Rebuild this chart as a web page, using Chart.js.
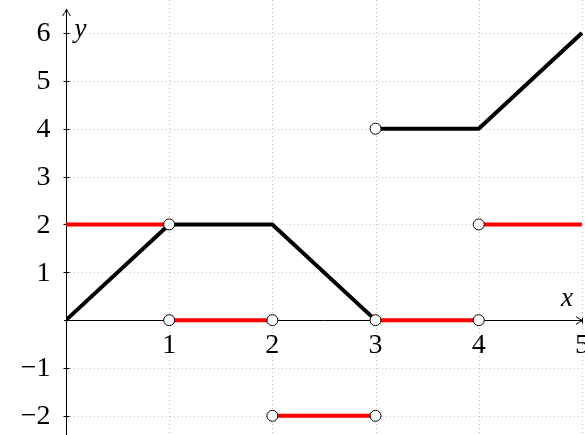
<!DOCTYPE html>
<html>
<head>
<meta charset="utf-8">
<script src="https://cdn.jsdelivr.net/npm/chart.js@4"></script>
<style>
  html, body { margin: 0; padding: 0; background: #fff; }
  #wrap { width: 585px; height: 435px; }
</style>
</head>
<body>
<div id="wrap"><canvas id="chart1"></canvas></div>
<script>
// piecewise black function
const blackX1 = [0, 1, 2, 3];
const blackY1 = [0, 2, 2, 0];
const blackX2 = [3, 4, 5];
const blackY2 = [4, 4, 6];

// red pieces (each from x0 to x1 at constant y)
const redX0 = [0, 1, 2, 3, 4];
const redX1 = [1, 2, 3, 4, 5];
const redY = [2, 0, -2, 0, 2];

// open circles
const openX = [1, 1, 2, 2, 3, 3, 3, 4, 4];
const openY = [2, 0, 0, -2, -2, 0, 4, 0, 2];

const xTicks = [1, 2, 3, 4, 5];
const yTicks = [-2, -1, 1, 2, 3, 4, 5, 6];

const toPts = (xs, ys) => xs.map((x, i) => ({ x: x, y: ys[i] }));

const datasets = [];
redY.forEach((y, i) => {
  datasets.push({
    data: toPts([redX0[i], redX1[i]], [y, y]),
    borderColor: '#ff0000',
    borderWidth: 4,
    pointRadius: 0,
    order: 3,
  });
});
datasets.push({
  data: toPts(blackX1, blackY1),
  borderColor: '#000',
  borderWidth: 4,
  pointRadius: 0,
  order: 2,
});
datasets.push({
  data: toPts(blackX2, blackY2),
  borderColor: '#000',
  borderWidth: 4,
  pointRadius: 0,
  order: 2,
});
datasets.push({
  data: toPts(openX, openY),
  showLine: false,
  pointRadius: 5.5,
  pointBackgroundColor: '#fff',
  pointBorderColor: '#000',
  pointBorderWidth: 1,
  order: 1,
});

const FONT = '28px "Liberation Serif", "DejaVu Serif", serif';
const IFONT = 'italic 27px "Liberation Serif", "DejaVu Serif", serif';

const axesPlugin = {
  id: 'axes',
  beforeDatasetsDraw(chart) {
    const ctx = chart.ctx;
    const xs = chart.scales.x, ys = chart.scales.y;
    const x0 = xs.getPixelForValue(0), y0 = ys.getPixelForValue(0);
    const area = chart.chartArea;
    ctx.save();
    // grid
    ctx.strokeStyle = '#c0c0c0';
    ctx.lineWidth = 1;
    ctx.setLineDash([1, 3]);
    xTicks.forEach(v => {
      const p = Math.round(xs.getPixelForValue(v)) + 0.5;
      ctx.beginPath(); ctx.moveTo(p, area.top); ctx.lineTo(p, area.bottom); ctx.stroke();
    });
    yTicks.forEach(v => {
      const p = Math.round(ys.getPixelForValue(v)) + 0.5;
      ctx.beginPath(); ctx.moveTo(area.left, p); ctx.lineTo(area.right, p); ctx.stroke();
    });
    ctx.setLineDash([]);
    // axis lines
    ctx.strokeStyle = '#000';
    ctx.lineWidth = 1;
    const xEnd = xs.getPixelForValue(5) + 1;
    const yTop = ys.getPixelForValue(6.5);
    const ax = Math.round(x0) + 0.5, ay = Math.round(y0) + 0.5;
    ctx.beginPath(); ctx.moveTo(area.left - 2, ay); ctx.lineTo(xEnd, ay); ctx.stroke();
    ctx.beginPath(); ctx.moveTo(ax, area.bottom); ctx.lineTo(ax, yTop); ctx.stroke();
    // arrow heads
    ctx.beginPath();
    ctx.moveTo(xEnd - 7, ay - 4); ctx.quadraticCurveTo(xEnd - 3, ay - 1, xEnd, ay);
    ctx.quadraticCurveTo(xEnd - 3, ay + 1, xEnd - 7, ay + 4); ctx.stroke();
    ctx.beginPath();
    ctx.moveTo(ax - 4, yTop + 7); ctx.quadraticCurveTo(ax - 1, yTop + 3, ax, yTop);
    ctx.quadraticCurveTo(ax + 1, yTop + 3, ax + 4, yTop + 7); ctx.stroke();
    // ticks
    xTicks.forEach(v => {
      const p = Math.round(xs.getPixelForValue(v)) + 0.5;
      ctx.beginPath(); ctx.moveTo(p, ay - 3); ctx.lineTo(p, ay + 3); ctx.stroke();
    });
    yTicks.forEach(v => {
      const p = Math.round(ys.getPixelForValue(v)) + 0.5;
      ctx.beginPath(); ctx.moveTo(ax - 3, p); ctx.lineTo(ax + 3, p); ctx.stroke();
    });
    // tick labels
    ctx.fillStyle = '#000';
    ctx.font = FONT;
    ctx.textAlign = 'center';
    ctx.textBaseline = 'top';
    xTicks.forEach(v => ctx.fillText(String(v), xs.getPixelForValue(v), ay + 11));
    ctx.textAlign = 'right';
    ctx.textBaseline = 'middle';
    yTicks.forEach(v => ctx.fillText(v < 0 ? '\u2212' + (-v) : String(v), ax - 16, ys.getPixelForValue(v) + 1));
    // axis labels
    ctx.font = IFONT;
    ctx.textAlign = 'left';
    ctx.textBaseline = 'middle';
    ctx.fillText('y', ax + 8, ys.getPixelForValue(6) - 3);
    ctx.textAlign = 'right';
    ctx.fillText('x', xEnd - 10, ay - 22);
    ctx.restore();
  }
};

const config = {
  type: 'line',
  data: { datasets: datasets },
  options: {
    responsive: true,
    maintainAspectRatio: false,
    animation: false,
    layout: { autoPadding: false, padding: { left: 66, right: 0, top: 0, bottom: 0 } },
    plugins: { legend: { display: false }, tooltip: { enabled: false } },
    scales: {
      x: { type: 'linear', min: 0, max: 5.03, display: false },
      y: { type: 'linear', min: -2.4, max: 6.69, display: false },
    },
  },
  plugins: [axesPlugin],
};

var myChart = new Chart(document.getElementById('chart1'), config);
</script>
</body>
</html>
